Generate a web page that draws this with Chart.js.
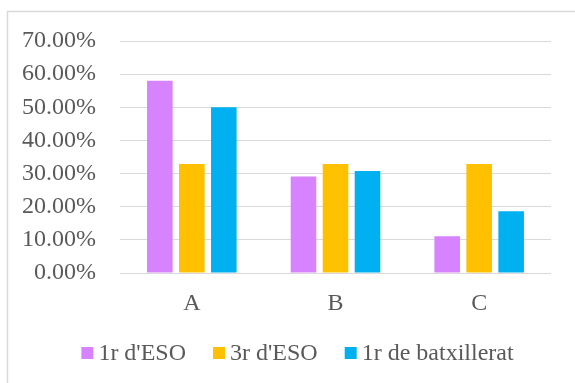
<!DOCTYPE html>
<html>
<head>
<meta charset="utf-8">
<script src="https://cdn.jsdelivr.net/npm/chart.js@4/dist/chart.umd.min.js"></script>
<style>
  html, body { margin: 0; padding: 0; background: #ffffff; }
  #wrap { position: relative; width: 575px; height: 383px; }
</style>
</head>
<body>
<div id="wrap"><canvas id="chart" width="575" height="383"></canvas></div>
<script>
// Categories and percentage values per course
const categories = ['A', 'B', 'C'];
const seriesNames = ["1r d'ESO", "3r d'ESO", '1r de batxillerat'];
const eso1 = [58.0, 29.1, 11.1];
const eso3 = [32.9, 32.9, 32.9];
const batx1 = [50.0, 30.8, 18.6];
const yTicks = [0, 10, 20, 30, 40, 50, 60, 70];

const colors = ['#D783FF', '#FFC000', '#00B0F0'];
const textColor = '#595959';
const fontFamily = '"Liberation Serif", "Times New Roman", serif';
const fontSize = 24;

// Outer frame of the chart
const framePlugin = {
  id: 'frame',
  beforeDraw(chart) {
    const ctx = chart.ctx;
    ctx.save();
    ctx.strokeStyle = '#d9d9d9';
    ctx.lineWidth = 1.5;
    ctx.strokeRect(7.5, 11.5, 700, 500);
    ctx.restore();
  }
};

// Legend row below the axis with small square markers
const legendPlugin = {
  id: 'squareLegend',
  afterDraw(chart) {
    const ctx = chart.ctx;
    const box = 12, gap = 5, itemGap = 27;
    const cy = 353;
    const centerX = 297.5;
    ctx.save();
    ctx.font = fontSize + 'px ' + fontFamily;
    const widths = chart.data.datasets.map(d => ctx.measureText(d.label).width);
    const total = widths.reduce((s, w) => s + box + gap + w, 0) + itemGap * (widths.length - 1);
    let x = centerX - total / 2;
    chart.data.datasets.forEach((d, i) => {
      ctx.fillStyle = d.backgroundColor;
      ctx.fillRect(x, cy - box / 2, box, box);
      x += box + gap;
      ctx.fillStyle = textColor;
      ctx.textBaseline = 'middle';
      ctx.textAlign = 'left';
      ctx.fillText(d.label, x, cy + 1);
      x += widths[i] + itemGap;
    });
    ctx.restore();
  }
};

const seriesValues = [eso1, eso3, batx1];

new Chart(document.getElementById('chart'), {
  type: 'bar',
  data: {
    labels: categories,
    datasets: seriesNames.map((name, i) => ({
      label: name,
      data: seriesValues[i],
      backgroundColor: colors[i],
      borderWidth: 0,
      categoryPercentage: 0.668,
      barPercentage: 0.8
    }))
  },
  options: {
    responsive: false,
    animation: false,
    layout: { padding: { top: 41, right: 24, left: 0, bottom: 0 } },
    plugins: {
      legend: { display: false },
      tooltip: { enabled: false }
    },
    scales: {
      x: {
        grid: { display: false, drawTicks: false },
        border: { display: false },
        ticks: {
          color: textColor,
          font: { family: fontFamily, size: fontSize },
          padding: 16
        },
        afterFit(scale) { scale.height = 110; }
      },
      y: {
        min: 0,
        max: 70,
        afterBuildTicks(scale) { scale.ticks = yTicks.map(v => ({ value: v })); },
        grid: { color: '#d9d9d9', lineWidth: 1, drawTicks: false },
        border: { display: false },
        ticks: {
          color: textColor,
          font: { family: fontFamily, size: fontSize },
          padding: 24,
          callback: v => v.toFixed(2) + '%'
        },
        afterFit(scale) { scale.width = 120; }
      }
    }
  },
  plugins: [framePlugin, legendPlugin]
});
</script>
</body>
</html>
